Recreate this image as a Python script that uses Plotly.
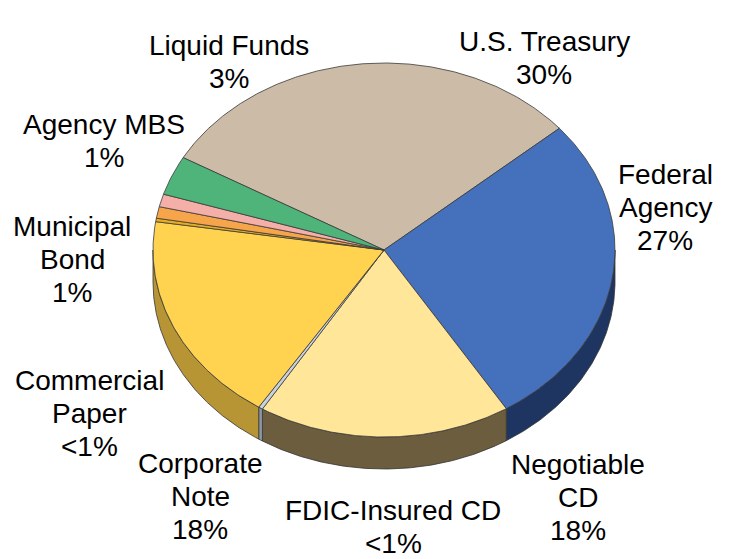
import numpy as np
import plotly.graph_objects as go

# ---- data ----
categories = ["U.S. Treasury", "Federal Agency", "Negotiable CD", "FDIC-Insured CD",
              "Corporate Note", "Commercial Paper", "Municipal Bond", "Agency MBS", "Liquid Funds"]
values = [30.5, 27.4, 17.7, 0.3, 18.3, 0.3, 1.0, 1.1, 3.4]
pct_text = ["30%", "27%", "18%", "<1%", "18%", "<1%", "1%", "1%", "3%"]

# label text as shown (line-wrapped) and placement (styling)
label_lines = [["U.S. Treasury"], ["Federal", "Agency"], ["Negotiable", "CD"], ["FDIC-Insured CD"],
               ["Corporate", "Note"], ["Commercial", "Paper"], ["Municipal", "Bond"], ["Agency MBS"], ["Liquid Funds"]]
label_pos = {
    "U.S. Treasury": (544, 58),
    "Federal Agency": (665, 207),
    "Negotiable CD": (578, 497),
    "FDIC-Insured CD": (393, 527),
    "Corporate Note": (200, 496),
    "Commercial Paper": (89, 413),
    "Municipal Bond": (72, 259),
    "Agency MBS": (104, 141),
    "Liquid Funds": (229, 62),
}
line_gap = 33

top_colors = ["#CBBBA7", "#4470BC", "#FFE699", "#C9D1DB", "#FFD24F",
              "#E7AE22", "#F6A54B", "#F4B0A8", "#4EB47A"]
side_colors = ["#8C7F70", "#1F3561", "#6B5D3D", "#8E98A4", "#B89534",
               "#A07A18", "#B07535", "#B07C76", "#2E7A50"]

# ---- geometry (layout) ----
W, H = 731, 559
cx, cy = 384, 250
a, b = 231, 187
depth = 32
start_angle = 150.4

total = sum(values)
fig = go.Figure()

def arc(t0, t1, n):
    t = np.radians(np.linspace(t0, t1, n))
    return cx + a * np.cos(t), cy - b * np.sin(t)

cum = 0.0
slices = []
for v in values:
    t_start = start_angle - 360.0 * cum / total
    t_end = start_angle - 360.0 * (cum + v) / total
    slices.append((t_start, t_end))
    cum += v

# side walls (visible where the rim faces the viewer: angle in [-180, 0])
for (t_start, t_end), name, sc in zip(slices, categories, side_colors):
    hi = min(t_start, 0.0)
    lo = max(t_end, -180.0)
    if hi <= lo:
        continue
    n = max(int((hi - lo) * 2) + 2, 3)
    xt, yt = arc(hi, lo, n)
    xs = np.concatenate([xt, xt[::-1], xt[:1]])
    ys = np.concatenate([yt, yt[::-1] + depth, yt[:1]])
    fig.add_trace(go.Scatter(x=xs, y=ys, fill="toself", mode="lines",
                             fillcolor=sc, line=dict(color="#333333", width=0.8),
                             hoverinfo="skip", showlegend=False))

# top faces
for (t_start, t_end), name, tc, v in zip(slices, categories, top_colors, values):
    n = max(int((t_start - t_end) * 2) + 2, 3)
    xt, yt = arc(t_start, t_end, n)
    xs = np.concatenate([[cx], xt, [cx]])
    ys = np.concatenate([[cy], yt, [cy]])
    fig.add_trace(go.Scatter(x=xs, y=ys, fill="toself", mode="lines",
                             fillcolor=tc, line=dict(color="#3A3A3A", width=0.8),
                             name=name, text=f"{name}: {v}%", hoveron="fills",
                             hoverinfo="text", showlegend=False))

# labels (one annotation per text line for tight line spacing)
for name, lines, pct in zip(categories, label_lines, pct_text):
    x, yc = label_pos[name]
    all_lines = lines + [pct]
    n = len(all_lines)
    for i, txt in enumerate(all_lines):
        y = yc + (i - (n - 1) / 2) * line_gap
        fig.add_annotation(x=x, y=y, xref="x", yref="y", text=txt,
                           showarrow=False, xanchor="center", yanchor="middle",
                           font=dict(family="Liberation Sans, Arial, sans-serif", size=28, color="#000000"))

fig.update_layout(
    width=W, height=H,
    margin=dict(l=0, r=0, t=0, b=0),
    paper_bgcolor="white", plot_bgcolor="white",
    xaxis=dict(range=[0, W], visible=False, fixedrange=True),
    yaxis=dict(range=[H, 0], visible=False, fixedrange=True),
    showlegend=False,
)

fig.write_html("out.html")
